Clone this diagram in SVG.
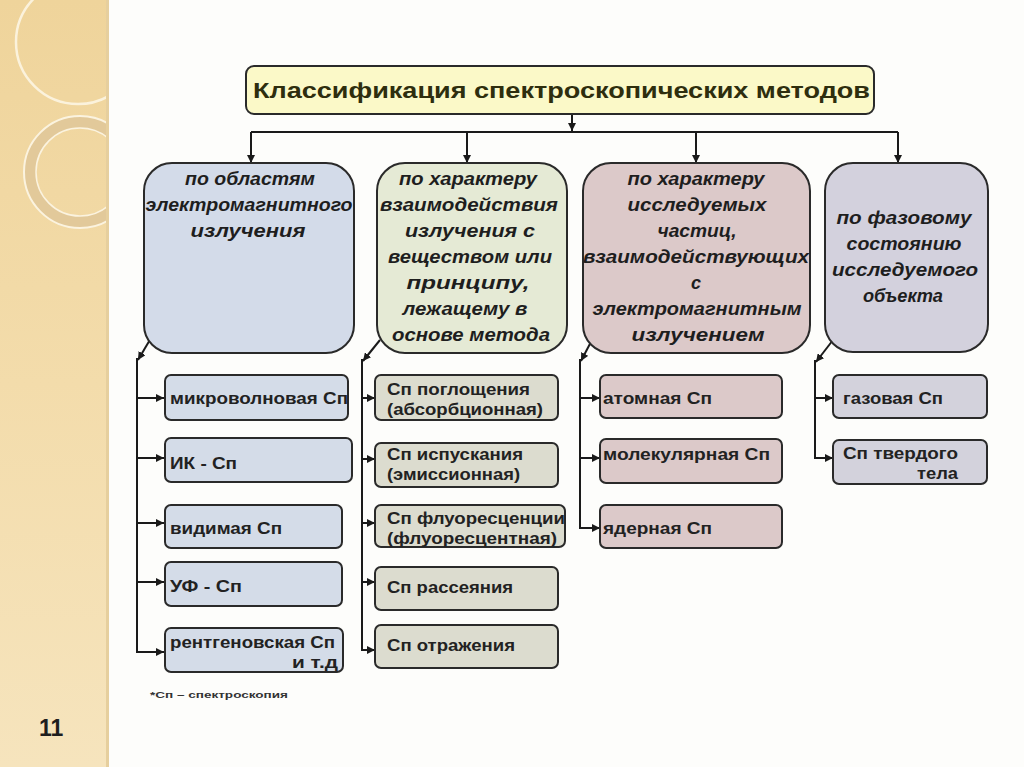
<svg xmlns="http://www.w3.org/2000/svg" width="1024" height="767" viewBox="0 0 1024 767">
<defs>
<linearGradient id="band" x1="0" y1="0" x2="0" y2="1">
<stop offset="0" stop-color="#efd49b"/>
<stop offset="0.5" stop-color="#f3dcab"/>
<stop offset="1" stop-color="#f6e4bd"/>
</linearGradient>
<clipPath id="bandClip"><rect x="0" y="0" width="108" height="767"/></clipPath>
<marker id="arr" viewBox="0 0 10 10" refX="10" refY="5" markerWidth="8" markerHeight="8" markerUnits="userSpaceOnUse" orient="auto">
<path d="M0,0 L10,5 L0,10 z" fill="#1a1a1a"/>
</marker>
<style>
.hdr{stroke:#2a2a2a;stroke-width:2}
.child{stroke:#2a2a2a;stroke-width:2}
.ht{font-family:"Liberation Sans",Arial,sans-serif;font-weight:bold;font-style:italic;font-size:18px;fill:#1e1e1e;text-anchor:middle}
.ct{font-family:"Liberation Sans",Arial,sans-serif;font-weight:bold;font-size:17px;fill:#222}
.con{fill:none;stroke:#1a1a1a;stroke-width:2}
</style>
</defs>
<rect x="0" y="0" width="1024" height="767" fill="#fdfdfb"/>
<g id="band-deco">
<rect x="0" y="0" width="108" height="767" fill="url(#band)"/>
<g clip-path="url(#bandClip)">
<circle cx="78" cy="42" r="62" fill="none" stroke="#fbf2dc" stroke-width="2.5"/>
<circle cx="80" cy="172" r="50" fill="none" stroke="#e2c99a" stroke-width="12"/>
<circle cx="80" cy="172" r="56" fill="none" stroke="#fbf3df" stroke-width="2"/>
<circle cx="80" cy="172" r="44" fill="none" stroke="#fbf3df" stroke-width="1.5"/>
</g>
<rect x="106" y="0" width="3" height="767" fill="#e6cf9e"/>
</g>
<text x="39" y="736" font-family="Liberation Sans,Arial,sans-serif" font-weight="bold" font-size="23" fill="#1e1e1e">11</text>

<g id="connectors">
<path class="con" d="M572,114 V131" marker-end="url(#arr)"/>
<path class="con" d="M251,132 H898"/>
<path class="con" d="M251,132 V163" marker-end="url(#arr)"/>
<path class="con" d="M467,132 V163" marker-end="url(#arr)"/>
<path class="con" d="M696,132 V163" marker-end="url(#arr)"/>
<path class="con" d="M898,132 V163" marker-end="url(#arr)"/>
<path class="con" d="M151,338 L138,360" marker-end="url(#arr)"/>
<path class="con" d="M137,358 V652 H164" marker-end="url(#arr)"/>
<path class="con" d="M137,398 H164" marker-end="url(#arr)"/>
<path class="con" d="M137,458 H164" marker-end="url(#arr)"/>
<path class="con" d="M137,523 H164" marker-end="url(#arr)"/>
<path class="con" d="M137,582 H164" marker-end="url(#arr)"/>
<path class="con" d="M380,340 L363,361" marker-end="url(#arr)"/>
<path class="con" d="M362,359 V650 H375" marker-end="url(#arr)"/>
<path class="con" d="M362,398 H375" marker-end="url(#arr)"/>
<path class="con" d="M362,459 H375" marker-end="url(#arr)"/>
<path class="con" d="M362,523 H375" marker-end="url(#arr)"/>
<path class="con" d="M362,582 H375" marker-end="url(#arr)"/>
<path class="con" d="M593,338 L581,361" marker-end="url(#arr)"/>
<path class="con" d="M580,359 V528 H600" marker-end="url(#arr)"/>
<path class="con" d="M580,398 H600" marker-end="url(#arr)"/>
<path class="con" d="M580,458 H600" marker-end="url(#arr)"/>
<path class="con" d="M833,340 L816,362" marker-end="url(#arr)"/>
<path class="con" d="M815,360 V458 H833" marker-end="url(#arr)"/>
<path class="con" d="M815,398 H833" marker-end="url(#arr)"/>
</g>

<g id="title">
<rect x="246" y="66" width="628" height="48" rx="8" fill="#fbf9c8" stroke="#2a2a2a" stroke-width="2"/>
<text x="253" y="98" font-family="Liberation Sans,Arial,sans-serif" font-weight="bold" font-size="22" fill="#2e2e0e" textLength="617" lengthAdjust="spacingAndGlyphs">Классификация спектроскопических методов</text>
</g>

<g id="h1">
<rect class="hdr" x="144" y="163" width="210" height="190" rx="28" fill="#d3dbe9"/>
<text class="ht" x="250" y="185" textLength="130" lengthAdjust="spacingAndGlyphs">по областям</text>
<text class="ht" x="249" y="211" textLength="207" lengthAdjust="spacingAndGlyphs">электромагнитного</text>
<text class="ht" x="248" y="237" textLength="115" lengthAdjust="spacingAndGlyphs">излучения</text>
</g>
<g id="h2">
<rect class="hdr" x="377" y="163" width="190" height="190" rx="28" fill="#e5ead5"/>
<text class="ht" x="468" y="185" textLength="138" lengthAdjust="spacingAndGlyphs">по характеру</text>
<text class="ht" x="469" y="211" textLength="178" lengthAdjust="spacingAndGlyphs">взаимодействия</text>
<text class="ht" x="470" y="237" textLength="130" lengthAdjust="spacingAndGlyphs">излучения с</text>
<text class="ht" x="470" y="263" textLength="164" lengthAdjust="spacingAndGlyphs">веществом или</text>
<text class="ht" x="468" y="289" textLength="123" lengthAdjust="spacingAndGlyphs">принципу,</text>
<text class="ht" x="465" y="315" textLength="125" lengthAdjust="spacingAndGlyphs">лежащему в</text>
<text class="ht" x="471" y="341" textLength="158" lengthAdjust="spacingAndGlyphs">основе метода</text>
</g>
<g id="h3">
<rect class="hdr" x="583" y="163" width="227" height="190" rx="28" fill="#dcc9c9"/>
<text class="ht" x="696" y="185" textLength="137" lengthAdjust="spacingAndGlyphs">по характеру</text>
<text class="ht" x="697" y="211" textLength="139" lengthAdjust="spacingAndGlyphs">исследуемых</text>
<text class="ht" x="697" y="237" textLength="79" lengthAdjust="spacingAndGlyphs">частиц,</text>
<text class="ht" x="696" y="263" textLength="226" lengthAdjust="spacingAndGlyphs">взаимодействующих</text>
<text class="ht" x="696" y="289">с</text>
<text class="ht" x="697" y="315" textLength="209" lengthAdjust="spacingAndGlyphs">электромагнитным</text>
<text class="ht" x="698" y="341" textLength="133" lengthAdjust="spacingAndGlyphs">излучением</text>
</g>
<g id="h4">
<rect class="hdr" x="825" y="163" width="163" height="189" rx="28" fill="#d3d1dd"/>
<text class="ht" x="904" y="224" textLength="135" lengthAdjust="spacingAndGlyphs">по фазовому</text>
<text class="ht" x="904" y="250" textLength="115" lengthAdjust="spacingAndGlyphs">состоянию</text>
<text class="ht" x="905" y="276" textLength="146" lengthAdjust="spacingAndGlyphs">исследуемого</text>
<text class="ht" x="903" y="302" textLength="80" lengthAdjust="spacingAndGlyphs">объекта</text>
</g>

<g id="c1a"><rect class="child" x="165" y="375" width="183" height="45" rx="6" fill="#d4dce8"/><text class="ct" x="170" y="404" textLength="178" lengthAdjust="spacingAndGlyphs">микроволновая Сп</text></g>
<g id="c1b"><rect class="child" x="165" y="438" width="187" height="44" rx="6" fill="#d4dce8"/><text class="ct" x="170" y="469" textLength="67" lengthAdjust="spacingAndGlyphs">ИК - Сп</text></g>
<g id="c1c"><rect class="child" x="165" y="505" width="177" height="43" rx="6" fill="#d4dce8"/><text class="ct" x="170" y="534" textLength="112" lengthAdjust="spacingAndGlyphs">видимая Сп</text></g>
<g id="c1d"><rect class="child" x="165" y="562" width="177" height="44" rx="6" fill="#d4dce8"/><text class="ct" x="170" y="592" textLength="72" lengthAdjust="spacingAndGlyphs">УФ - Сп</text></g>
<g id="c1e"><rect class="child" x="165" y="628" width="178" height="44" rx="6" fill="#d4dce8"/><text class="ct" x="170" y="648" textLength="165" lengthAdjust="spacingAndGlyphs">рентгеновская Сп</text><text class="ct" x="338" y="668" text-anchor="end" textLength="46" lengthAdjust="spacingAndGlyphs">и т.д</text></g>

<g id="c2a"><rect class="child" x="375" y="375" width="183" height="45" rx="6" fill="#dcdccf"/><text class="ct" x="387" y="395" textLength="143" lengthAdjust="spacingAndGlyphs">Сп поглощения</text><text class="ct" x="387" y="415" textLength="156" lengthAdjust="spacingAndGlyphs">(абсорбционная)</text></g>
<g id="c2b"><rect class="child" x="375" y="443" width="183" height="44" rx="6" fill="#dcdccf"/><text class="ct" x="387" y="460" textLength="136" lengthAdjust="spacingAndGlyphs">Сп испускания</text><text class="ct" x="387" y="480" textLength="133" lengthAdjust="spacingAndGlyphs">(эмиссионная)</text></g>
<g id="c2c"><rect class="child" x="375" y="505" width="190" height="42" rx="6" fill="#dcdccf"/><text class="ct" x="387" y="524" textLength="178" lengthAdjust="spacingAndGlyphs">Сп флуоресценции</text><text class="ct" x="387" y="544" textLength="170" lengthAdjust="spacingAndGlyphs">(флуоресцентная)</text></g>
<g id="c2d"><rect class="child" x="375" y="567" width="183" height="43" rx="6" fill="#dcdccf"/><text class="ct" x="387" y="593" textLength="126" lengthAdjust="spacingAndGlyphs">Сп рассеяния</text></g>
<g id="c2e"><rect class="child" x="375" y="625" width="183" height="43" rx="6" fill="#dcdccf"/><text class="ct" x="387" y="651" textLength="128" lengthAdjust="spacingAndGlyphs">Сп отражения</text></g>

<g id="c3a"><rect class="child" x="600" y="375" width="182" height="43" rx="6" fill="#dcc9c9"/><text class="ct" x="603" y="404" textLength="109" lengthAdjust="spacingAndGlyphs">атомная Сп</text></g>
<g id="c3b"><rect class="child" x="600" y="439" width="182" height="44" rx="6" fill="#dcc9c9"/><text class="ct" x="603" y="460" textLength="167" lengthAdjust="spacingAndGlyphs">молекулярная Сп</text></g>
<g id="c3c"><rect class="child" x="600" y="505" width="182" height="43" rx="6" fill="#dcc9c9"/><text class="ct" x="603" y="534" textLength="109" lengthAdjust="spacingAndGlyphs">ядерная Сп</text></g>

<g id="c4a"><rect class="child" x="833" y="375" width="154" height="43" rx="6" fill="#d3d2dc"/><text class="ct" x="843" y="404" textLength="100" lengthAdjust="spacingAndGlyphs">газовая Сп</text></g>
<g id="c4b"><rect class="child" x="833" y="440" width="154" height="44" rx="6" fill="#d3d2dc"/><text class="ct" x="843" y="459" textLength="115" lengthAdjust="spacingAndGlyphs">Сп твердого</text><text class="ct" x="958" y="479" text-anchor="end" textLength="41" lengthAdjust="spacingAndGlyphs">тела</text></g>

<text x="150" y="698" font-family="Liberation Sans,Arial,sans-serif" font-weight="bold" font-size="9" fill="#333" textLength="138" lengthAdjust="spacingAndGlyphs">*Сп – спектроскопия</text>
</svg>
